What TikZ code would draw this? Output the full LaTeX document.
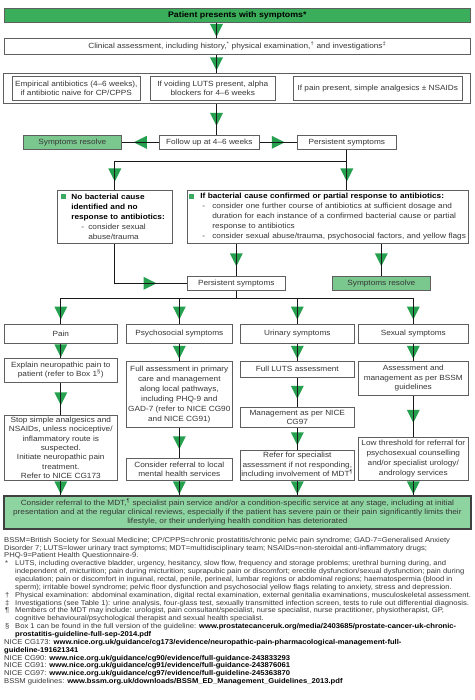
\documentclass[tikz,border=0pt]{standalone}
\usepackage{fontspec}
\setmainfont{Liberation Sans}[FakeStretch=1.1]
\newfontfamily\fnfont{Liberation Sans}[FakeStretch=1.09]
\usetikzlibrary{decorations.markings}
\definecolor{bargreen}{RGB}{58,174,90}
\definecolor{trigreen}{RGB}{36,160,78}
\definecolor{resgreen}{RGB}{122,200,142}
\definecolor{fingreen}{RGB}{142,212,160}
\definecolor{bulgreen}{RGB}{58,170,98}
\definecolor{boxgray}{RGB}{95,95,95}
\definecolor{txtgray}{RGB}{55,55,55}
\definecolor{linecol}{RGB}{25,25,25}
\newcommand{\bsq}{\textcolor{bulgreen}{\rule{5pt}{5pt}}}
\newcommand{\fnm}[1]{\makebox[11pt][l]{\hspace{1pt}#1}}
\newcommand{\fni}{\hspace*{11pt}}
\begin{document}
\begin{tikzpicture}[x=1pt,y=-1pt,
  box/.style={draw=boxgray, line width=0.6pt, fill=white, inner sep=1pt, anchor=north west,
    font=\fontsize{7.5}{9.3}\selectfont, text=txtgray, align=center},
  greenbox/.style={box, fill=resgreen},
  conn/.style={draw=linecol, line width=1.1pt},
  tri/.style={preaction={decorate,decoration={markings,mark=at position #1 with
    {\fill[trigreen] (6.5pt,0pt)--(-6.5pt,6.5pt)--(-6.5pt,-6.5pt)--cycle;}}}},
]
\fill[white] (0,0) rectangle (474,700);
\useasboundingbox (0,0) rectangle (474,700);
\coordinate (sp) at (216.5,0);

% top part
\node[box, fill=bargreen, text=black, font=\bfseries\fontsize{8}{9}\selectfont,
  minimum width=466pt, minimum height=14pt] (top) at (4,8) {Patient presents with symptoms*};
\node[box, minimum width=466pt, minimum height=16pt] (clin) at (4,38)
  {Clinical assessment, including history,\textsuperscript{*} physical examination,\textsuperscript{†} and investigations\textsuperscript{‡}};
\node[box, minimum width=467pt, minimum height=30pt] (opts) at (3,73) {};
\node[box, minimum width=128pt, minimum height=24pt] (optA) at (12,76)
  {Empirical antibiotics (4–6 weeks),\\ if antibiotic naive for CP/CPPS};
\node[box, minimum width=125pt, minimum height=24pt] (optB) at (150,76)
  {If voiding LUTS present, alpha\\ blockers for 4–6 weeks};
\node[box, minimum width=169pt, minimum height=24pt] (optC) at (293,76)
  {If pain present, simple analgesics ± NSAIDs};

\node[greenbox, minimum width=98pt, minimum height=14pt] (res1) at (23,135) {Symptoms resolve};
\node[box, minimum width=100pt, minimum height=14pt] (follow) at (159,135) {Follow up at 4–6 weeks};
\node[box, minimum width=99pt, minimum height=14pt] (p1) at (297,135) {Persistent symptoms};

\node[box, minimum width=115pt, minimum height=53pt, inner xsep=4pt, text width=107pt, align=left,
  font=\fontsize{7.5}{10}\selectfont] (nobact) at (57,190)
  {\makebox[10pt][l]{\bsq}\textcolor{black}{\textbf{No bacterial cause}}\\
   \hspace*{10pt}\textcolor{black}{\textbf{identified and no}}\\
   \hspace*{10pt}\textcolor{black}{\textbf{response to antibiotics:}}\\
   \hspace*{20pt}\makebox[7pt][l]{-}consider sexual\\
   \hspace*{27pt}abuse/trauma};
\node[box, minimum width=281pt, minimum height=53pt, inner xsep=2pt, text width=277pt, align=left,
  font=\fontsize{7.5}{10}\selectfont] (bact) at (187,190)
  {\makebox[11pt][l]{\bsq}\textcolor{black}{\textbf{If bacterial cause confirmed or partial response to antibiotics:}}\\
   \hspace*{13pt}\makebox[10pt][l]{-}consider one further course of antibiotics at sufficient dosage and\\
   \hspace*{23pt}duration for each instance of a confirmed bacterial cause or partial\\
   \hspace*{23pt}response to antibiotics\\
   \hspace*{13pt}\makebox[10pt][l]{-}consider sexual abuse/trauma, psychosocial factors, and yellow flags};

\node[box, minimum width=98pt, minimum height=14pt] (p2) at (187,276) {Persistent symptoms};
\node[greenbox, minimum width=98pt, minimum height=14pt] (res2) at (332,276) {Symptoms resolve};

% columns
\node[box, minimum width=113pt, minimum height=19pt] (pain) at (4,324) {Pain};
\node[box, minimum width=106pt, minimum height=19pt] (psy) at (126,324) {Psychosocial symptoms};
\node[box, minimum width=114pt, minimum height=19pt] (uri) at (240,324) {Urinary symptoms};
\node[box, minimum width=110pt, minimum height=19pt] (sex) at (358,324) {Sexual symptoms};

\node[box, minimum width=113pt, minimum height=24pt] (explain) at (4,358)
  {Explain neuropathic pain to\\ patient (refer to Box 1\textsuperscript{§})};
\node[box, minimum width=113pt, minimum height=65pt] (stop) at (4,415)
  {Stop simple analgesics and\\ NSAIDs, unless nociceptive/\\ inflammatory route is\\ suspected.\\ Initiate neuropathic pain\\ treatment.\\ Refer to NICE CG173};

\node[box, minimum width=106pt, minimum height=66pt, inner xsep=0pt, font=\fontsize{7.5}{10}\selectfont] (fullass) at (126,361)
  {Full assessment in primary\\ care and management\\ along local pathways,\\ including PHQ-9 and\\ GAD-7 (refer to NICE CG90\\ and NICE CG91)};
\node[box, minimum width=106pt, minimum height=22pt] (consref) at (126,458)
  {Consider referral to local\\ mental health services};

\node[box, minimum width=114pt, minimum height=16pt] (luts) at (240,361) {Full LUTS assessment};
\node[box, minimum width=114pt, minimum height=20pt] (mgmt) at (240,407)
  {Management as per NICE\\ CG97};
\node[box, minimum width=114pt, minimum height=30pt] (refer) at (240,450)
  {Refer for specialist\\ assessment if not responding,\\ including involvement of MDT\textsuperscript{¶}};

\node[box, minimum width=110pt, minimum height=34pt] (sexass) at (358,361)
  {Assessment and\\ management as per BSSM\\ guidelines};
\node[box, minimum width=110pt, minimum height=43pt, inner xsep=0pt, font=\fontsize{7.5}{10}\selectfont] (low) at (358,437)
  {Low threshold for referral for\\ psychosexual counselling\\ and/or specialist urology/\\ andrology services};

\node[box, fill=fingreen, draw=black!75, line width=1.8pt, minimum width=467pt, minimum height=33pt,
  font=\fontsize{7.5}{9}\selectfont] (final) at (3,495)
  {Consider referral to the MDT,\textsuperscript{¶} specialist pain service and/or a condition-specific service at any stage, including at initial\\
   presentation and at the regular clinical reviews, especially if the patient has severe pain or their pain significantly limits their\\
   lifestyle, or their underlying health condition has deteriorated};

% connectors
\draw[conn,tri=0.5] (top.south -| sp) -- (clin.north -| sp);
\draw[conn,tri=0.5] (clin.south -| sp) -- (opts.north -| sp);
\draw[conn,tri=0.5] (opts.south -| sp) -- (follow.north -| sp);
\draw[conn,tri=0.5] (follow.west) -- (res1.east);
\draw[conn,tri=0.5] (follow.east) -- (p1.west);
\draw[conn,tri=-15pt] (p1.south) -- ++(0,12) -| (nobact.north);
\draw[conn,tri=-15pt] (p1.south) -- (p1.south |- bact.north);
\draw[conn,tri=-37pt] (nobact.south) |- (p2.west);
\draw[conn,tri=0.5] (bact.south -| p2.north) -- (p2.north);
\draw[conn,tri=0.5] (bact.south -| res2.north) -- (res2.north);
\draw[conn,tri=-11pt] (p2.south) -- ++(0,8) -| (pain.north);
\draw[conn,tri=-11pt] (p2.south) -- ++(0,8) -| (psy.north);
\draw[conn,tri=-11pt] (p2.south) -- ++(0,8) -| (uri.north);
\draw[conn,tri=-11pt] (p2.south) -- ++(0,8) -| (sex.north);

\draw[conn,tri=0.5] (pain.south) -- (explain.north);
\draw[conn,tri=0.5] (explain.south) -- (stop.north);
\draw[conn,tri=0.5] (stop.south) -- (stop.south |- final.north);
\draw[conn,tri=0.5] (psy.south) -- (fullass.north);
\draw[conn,tri=0.5] (fullass.south) -- (consref.north);
\draw[conn,tri=0.5] (consref.south) -- (consref.south |- final.north);
\draw[conn,tri=0.5] (uri.south) -- (luts.north);
\draw[conn,tri=0.5] (luts.south) -- (mgmt.north);
\draw[conn,tri=0.5] (mgmt.south) -- (refer.north);
\draw[conn,tri=0.5] (refer.south) -- (refer.south |- final.north);
\draw[conn,tri=0.5] (sex.south) -- (sexass.north);
\draw[conn,tri=0.5] (sexass.south) -- (low.north);
\draw[conn,tri=0.5] (low.south) -- (low.south |- final.north);

% footnotes
\node[anchor=north west, inner sep=0pt, align=left, text=txtgray, font=\fnfont\fontsize{7}{7.85}\selectfont] (notes) at (4,537)
 {BSSM=British Society for Sexual Medicine; CP/CPPS=chronic prostatitis/chronic pelvic pain syndrome; GAD-7=Generalised Anxiety\\
  Disorder 7; LUTS=lower urinary tract symptoms; MDT=multidisciplinary team; NSAIDs=non-steroidal anti-inflammatory drugs;\\
  PHQ-9=Patient Health Questionnaire-9.\\
  \fnm{*}LUTS, including overactive bladder, urgency, hesitancy, slow flow, frequency and storage problems; urethral burning during, and\\
  \fni independent of, micturition; pain during micturition; suprapubic pain or discomfort; erectile dysfunction/sexual dysfunction; pain during\\
  \fni ejaculation; pain or discomfort in inguinal, rectal, penile, perineal, lumbar regions or abdominal regions; haematospermia (blood in\\
  \fni sperm); irritable bowel syndrome; pelvic floor dysfunction and psychosocial yellow flags relating to anxiety, stress and depression.\\
  \fnm{†}Physical examination: abdominal examination, digital rectal examination, external genitalia examinations, musculoskeletal assessment.\\
  \fnm{‡}Investigations (see Table 1): urine analysis, four-glass test, sexually transmitted infection screen, tests to rule out differential diagnosis.\\
  \fnm{¶}Members of the MDT may include: urologist, pain consultant/specialist, nurse specialist, nurse practitioner, physiotherapist, GP,\\
  \fni cognitive behavioural/psychological therapist and sexual health specialist.\\
  \fnm{§}Box 1 can be found in the full version of the guideline: \textcolor{black}{\textbf{www.prostatecanceruk.org/media/2403685/prostate-cancer-uk-chronic-}}\\
  \fni\textcolor{black}{\textbf{prostatitis-guideline-full-sep-2014.pdf}}\\
  NICE CG173: \textcolor{black}{\textbf{www.nice.org.uk/guidance/cg173/evidence/neuropathic-pain-pharmacological-management-full-}}\\
  \textcolor{black}{\textbf{guideline-191621341}}\\
  NICE CG90: \textcolor{black}{\textbf{www.nice.org.uk/guidance/cg90/evidence/full-guidance-243833293}}\\
  NICE CG91: \textcolor{black}{\textbf{www.nice.org.uk/guidance/cg91/evidence/full-guidance-243876061}}\\
  NICE CG97: \textcolor{black}{\textbf{www.nice.org.uk/guidance/cg97/evidence/full-guideline-245363870}}\\
  BSSM guidelines: \textcolor{black}{\textbf{www.bssm.org.uk/downloads/BSSM\_ED\_Management\_Guidelines\_2013.pdf}}};
\end{tikzpicture}
\end{document}
